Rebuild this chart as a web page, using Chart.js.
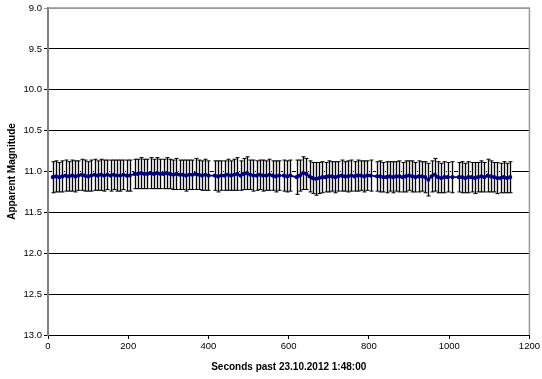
<!DOCTYPE html>
<html>
<head>
<meta charset="utf-8">
<script src="https://cdn.jsdelivr.net/npm/chart.js@4/dist/chart.umd.min.js"></script>
<style>
  html, body { margin: 0; padding: 0; background: #fff; }
  #wrap { width: 542px; height: 379px; }
</style>
</head>
<body>
<div id="wrap"><canvas id="myChart"></canvas></div>
<script>
// seconds past 23.10.2012 1:48:00
const seconds = [
    12, 20, 28, 36, 44, 52, 60, 68, 76, 84, 92, 100, 108, 116, 124, 132, 140, 148, 156, 164, 172, 180, 188, 196, 204,
    216, 224, 232, 240, 248, 256, 264, 272, 280, 288, 296, 304,
    312, 320, 328, 336, 344, 352, 360, 368, 376, 384, 392, 400,
    416, 424, 432, 440, 448, 456, 464, 472, 480, 488, 496, 504, 512, 520, 528, 536, 544, 552, 560, 568, 576,
    588, 596, 604,
    620, 628, 636, 644, 652, 660, 668, 676, 684, 692, 700, 708, 716, 724, 732, 740, 748, 756, 764, 772, 780, 788, 796, 804,
    820, 828, 836, 844, 852, 860, 868, 876, 884, 892, 900, 908, 916, 924, 932, 940, 948, 956, 964, 972, 980, 988, 996,
    1008,
    1024, 1032, 1040, 1048, 1056, 1064, 1072, 1080, 1088, 1096, 1104, 1112, 1120, 1128, 1136, 1144, 1152
];

const magnitudes = [
    11.07, 11.06, 11.07, 11.06, 11.05, 11.06, 11.05, 11.06, 11.05, 11.04, 11.05, 11.06, 11.05, 11.04, 11.05, 11.04, 11.05, 11.04, 11.05, 11.04, 11.05, 11.05, 11.04, 11.05, 11.05,
    11.03, 11.03, 11.02, 11.03, 11.03, 11.02, 11.03, 11.02, 11.03, 11.03, 11.02, 11.03,
    11.04, 11.03, 11.04, 11.04, 11.05, 11.04, 11.04, 11.03, 11.04, 11.05, 11.04, 11.05,
    11.05, 11.06, 11.05, 11.05, 11.04, 11.05, 11.04, 11.03, 11.05, 11.03, 11.02, 11.04, 11.05, 11.05, 11.04, 11.05, 11.05, 11.04, 11.05, 11.06, 11.05,
    11.05, 11.06, 11.05,
    11.07, 11.05, 11.02, 11.03, 11.06, 11.08, 11.09, 11.08, 11.07, 11.07, 11.06, 11.06, 11.07, 11.06, 11.05, 11.06, 11.06, 11.05, 11.06, 11.05, 11.05, 11.06, 11.05, 11.05,
    11.06, 11.06, 11.07, 11.07, 11.06, 11.07, 11.06, 11.06, 11.07, 11.06, 11.05, 11.06, 11.07, 11.06, 11.06, 11.07, 11.10, 11.06, 11.04, 11.07, 11.08, 11.07, 11.07,
    11.07,
    11.07, 11.07, 11.08, 11.07, 11.07, 11.08, 11.07, 11.06, 11.07, 11.05, 11.06, 11.07, 11.08, 11.08, 11.07, 11.08, 11.07
];

const errors = [
    0.19, 0.19, 0.18, 0.19, 0.19, 0.18, 0.19, 0.19, 0.18, 0.19, 0.19, 0.18, 0.19, 0.19, 0.18, 0.19, 0.19, 0.18, 0.19, 0.18, 0.19, 0.19, 0.18, 0.19, 0.19,
    0.18, 0.18, 0.19, 0.18, 0.18, 0.19, 0.18, 0.19, 0.18, 0.18, 0.19, 0.18,
    0.18, 0.19, 0.18, 0.18, 0.19, 0.18, 0.18, 0.19, 0.18, 0.18, 0.19, 0.18,
    0.18, 0.19, 0.18, 0.18, 0.19, 0.18, 0.19, 0.20, 0.18, 0.19, 0.20, 0.18, 0.19, 0.18, 0.18, 0.19, 0.18, 0.19, 0.18, 0.19, 0.18,
    0.19, 0.19, 0.19,
    0.21, 0.19, 0.20, 0.19, 0.19, 0.19, 0.20, 0.19, 0.19, 0.18, 0.19, 0.18, 0.19, 0.18, 0.19, 0.18, 0.19, 0.19, 0.18, 0.19, 0.18, 0.19, 0.18, 0.19,
    0.18, 0.19, 0.18, 0.19, 0.18, 0.19, 0.18, 0.19, 0.18, 0.19, 0.18, 0.19, 0.18, 0.19, 0.18, 0.19, 0.20, 0.19, 0.20, 0.19, 0.18, 0.19, 0.18,
    0.19,
    0.18, 0.19, 0.18, 0.19, 0.18, 0.19, 0.18, 0.19, 0.18, 0.20, 0.19, 0.18, 0.19, 0.18, 0.19, 0.18, 0.19
];

const xTickStep = 200;
const yTicks = { min: 9.0, max: 13.0, step: 0.5 };

const points = seconds.map((s, i) => ({ x: s, y: magnitudes[i] }));

// vertical error bars with caps, drawn under the line
const errorBars = {
    id: 'errorBars',
    beforeDatasetsDraw(chart) {
        const ctx = chart.ctx;
        const xs = chart.scales.x;
        const ys = chart.scales.y;
        ctx.save();
        // light grey body behind each bar, as in the old spreadsheet render
        ctx.fillStyle = '#d4d4d4';
        seconds.forEach((s, i) => {
            const x = Math.round(xs.getPixelForValue(s)) + 0.5;
            const top = ys.getPixelForValue(magnitudes[i] - errors[i]);
            const bot = ys.getPixelForValue(magnitudes[i] + errors[i]);
            ctx.fillRect(x - 1.5, top, 3, bot - top);
        });
        ctx.strokeStyle = '#000';
        ctx.lineWidth = 1;
        ctx.beginPath();
        seconds.forEach((s, i) => {
            const x = Math.round(xs.getPixelForValue(s)) + 0.5;
            const top = ys.getPixelForValue(magnitudes[i] - errors[i]);
            const bot = ys.getPixelForValue(magnitudes[i] + errors[i]);
            ctx.moveTo(x, top);
            ctx.lineTo(x, bot);
            ctx.moveTo(x - 2, top);
            ctx.lineTo(x + 2, top);
            ctx.moveTo(x - 2, bot);
            ctx.lineTo(x + 2, bot);
        });
        ctx.stroke();
        ctx.restore();
    }
};

const frame = {
    id: 'frame',
    afterDraw(chart) {
        const { ctx, chartArea } = chart;
        ctx.save();
        ctx.strokeStyle = '#999';
        ctx.lineWidth = 1.5;
        ctx.beginPath();
        ctx.moveTo(chartArea.left, chartArea.top);
        ctx.lineTo(chartArea.right, chartArea.top);
        ctx.lineTo(chartArea.right, chartArea.bottom);
        ctx.stroke();
        ctx.restore();
    }
};

Chart.defaults.font.family = "'Liberation Sans', Arial, sans-serif";
Chart.defaults.color = '#000';

new Chart(document.getElementById('myChart').getContext('2d'), {
    type: 'line',
    data: {
        datasets: [{
            data: points,
            borderColor: '#000080',
            backgroundColor: '#000080',
            borderWidth: 1.8,
            pointRadius: 1.2,
            pointHoverRadius: 1.2,
            tension: 0
        }]
    },
    options: {
        responsive: true,
        maintainAspectRatio: false,
        animation: false,
        layout: { padding: { top: 8, right: 11, bottom: 2, left: 6 } },
        plugins: { legend: { display: false }, tooltip: { enabled: false } },
        scales: {
            x: {
                type: 'linear',
                min: 0,
                max: 1200,
                afterFit: (s) => { s.height = 42; },
                ticks: {
                    stepSize: xTickStep,
                    padding: 2,
                    font: { size: 9.5 },
                    maxRotation: 0,
                    callback: (v) => String(v)
                },
                grid: { drawOnChartArea: false, drawTicks: true, tickLength: 4, color: '#000' },
                border: { color: '#000', width: 1 },
                title: {
                    display: true,
                    text: 'Seconds past 23.10.2012 1:48:00',
                    font: { size: 10, weight: 'bold' },
                    padding: { top: 0, bottom: 4 }
                }
            },
            y: {
                reverse: true,
                min: yTicks.min,
                max: yTicks.max,
                afterFit: (s) => { s.width = 42; },
                ticks: {
                    stepSize: yTicks.step,
                    padding: 2,
                    font: { size: 9.5 },
                    callback: (v) => v.toFixed(1)
                },
                grid: {
                    color: (c) => (c.tick && c.tick.value === yTicks.min) ? '#999' : '#000',
                    lineWidth: 1,
                    tickLength: 4
                },
                border: { color: '#808080', width: 2 },
                title: {
                    display: true,
                    text: 'Apparent Magnitude',
                    font: { size: 10, weight: 'bold' },
                    padding: { top: 0, bottom: 0 }
                }
            }
        }
    },
    plugins: [errorBars, frame]
});
</script>
</body>
</html>
